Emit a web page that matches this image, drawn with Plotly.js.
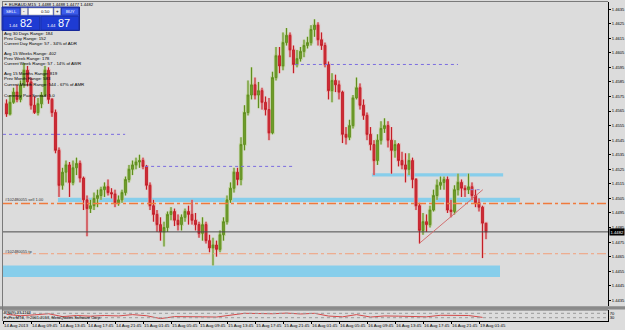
<!DOCTYPE html>
<html><head><meta charset="utf-8">
<script src="https://cdn.plot.ly/plotly-3.0.1.min.js"></script>
<style>html,body{margin:0;padding:0;background:#DCDCDC;overflow:hidden}#chart{width:625px;height:330px}</style>
</head><body><div id="chart"></div>
<script>
// ---- data (EURAUD; one candle per visible column) ----
const barOpen = [1.4570,1.4563,1.4571,1.4578,1.4573,1.4583,1.4593,1.4585,1.4569,1.4564,1.4570,1.4576,1.4593,1.4573,1.4564,1.4538,1.4514,1.4523,1.4528,1.4516,
1.4526,1.4529,1.4519,1.4504,1.4498,1.4500,1.4505,1.4507,1.4511,1.4513,1.4509,1.4508,1.4502,1.4504,1.4509,1.4518,1.4525,1.4528,1.4530,1.4531,
1.4527,1.4514,1.4500,1.4494,1.4487,1.4482,1.4485,1.4494,1.4496,1.4490,1.4487,1.4492,1.4496,1.4494,1.4490,1.4487,1.4481,1.4487,1.4476,1.4471,
1.4473,1.4470,1.4480,1.4489,1.4504,1.4512,1.4523,1.4518,1.4542,1.4564,1.4576,1.4583,1.4576,1.4579,1.4571,1.4566,1.4550,1.4588,1.4603,1.4596,
1.4612,1.4617,1.4607,1.4597,1.4601,1.4606,1.4610,1.4612,1.4621,1.4624,1.4614,1.4610,1.4597,1.4579,1.4586,1.4583,1.4578,1.4549,1.4547,1.4555,
1.4574,1.4581,1.4569,1.4562,1.4549,1.4542,1.4531,1.4545,1.4553,1.4555,1.4545,1.4538,1.4542,1.4531,1.4528,1.4525,1.4531,1.4518,1.4500,1.4483,
1.4489,1.4487,1.4497,1.4507,1.4514,1.4516,1.4518,1.4497,1.4496,1.4511,1.4516,1.4512,1.4511,1.4513,1.4507,1.4502,1.4499,1.4488];
const barHigh = [1.4573,1.4576,1.4581,1.4583,1.4586,1.4598,1.4596,1.4588,1.4575,1.4574,1.4578,1.4596,1.4595,1.4574,1.4566,1.4540,1.4526,1.4531,1.4530,1.4531,
1.4533,1.4531,1.4520,1.4507,1.4504,1.4509,1.4511,1.4513,1.4516,1.4518,1.4512,1.4511,1.4507,1.4511,1.4520,1.4528,1.4531,1.4533,1.4535,1.4533,
1.4528,1.4516,1.4504,1.4497,1.4492,1.4489,1.4496,1.4499,1.4498,1.4494,1.4494,1.4498,1.4500,1.4504,1.4495,1.4489,1.4492,1.4489,1.4480,1.4478,
1.4476,1.4483,1.4492,1.4507,1.4516,1.4526,1.4526,1.4547,1.4569,1.4586,1.4595,1.4588,1.4585,1.4581,1.4575,1.4574,1.4592,1.4609,1.4609,1.4619,
1.4622,1.4619,1.4610,1.4607,1.4609,1.4614,1.4616,1.4624,1.4628,1.4626,1.4619,1.4612,1.4599,1.4591,1.4590,1.4586,1.4579,1.4554,1.4559,1.4576,
1.4588,1.4584,1.4573,1.4564,1.4554,1.4545,1.4549,1.4558,1.4560,1.4558,1.4554,1.4545,1.4543,1.4537,1.4536,1.4536,1.4533,1.4519,1.4502,1.4495,
1.4494,1.4500,1.4511,1.4518,1.4520,1.4520,1.4520,1.4504,1.4514,1.4522,1.4518,1.4514,1.4522,1.4516,1.4511,1.4505,1.4500,1.4488];
const barLow = [1.4561,1.4562,1.4570,1.4571,1.4571,1.4581,1.4582,1.4566,1.4563,1.4562,1.4567,1.4575,1.4570,1.4561,1.4536,1.4506,1.4511,1.4516,1.4506,1.4514,
1.4521,1.4516,1.4497,1.4479,1.4495,1.4497,1.4499,1.4504,1.4506,1.4507,1.4505,1.4499,1.4500,1.4502,1.4507,1.4516,1.4521,1.4525,1.4526,1.4525,
1.4511,1.4497,1.4489,1.4482,1.4476,1.4472,1.4482,1.4490,1.4486,1.4483,1.4483,1.4489,1.4487,1.4487,1.4483,1.4478,1.4476,1.4474,1.4468,1.4459,
1.4465,1.4468,1.4476,1.4487,1.4502,1.4509,1.4514,1.4514,1.4538,1.4562,1.4573,1.4573,1.4567,1.4566,1.4562,1.4545,1.4549,1.4586,1.4591,1.4593,
1.4610,1.4602,1.4591,1.4595,1.4599,1.4602,1.4608,1.4610,1.4616,1.4610,1.4607,1.4595,1.4573,1.4571,1.4578,1.4573,1.4543,1.4542,1.4545,1.4553,
1.4573,1.4566,1.4559,1.4545,1.4538,1.4521,1.4528,1.4542,1.4550,1.4540,1.4522,1.4533,1.4527,1.4525,1.4516,1.4521,1.4512,1.4497,1.4474,1.4480,
1.4482,1.4485,1.4496,1.4504,1.4511,1.4511,1.4495,1.4492,1.4494,1.4507,1.4506,1.4506,1.4508,1.4504,1.4499,1.4496,1.4464,1.4477];
const barClose = [1.4563,1.4571,1.4578,1.4573,1.4583,1.4593,1.4585,1.4569,1.4564,1.4570,1.4576,1.4593,1.4573,1.4564,1.4538,1.4514,1.4523,1.4528,1.4516,1.4526,
1.4529,1.4519,1.4504,1.4498,1.4500,1.4505,1.4507,1.4511,1.4513,1.4509,1.4508,1.4502,1.4504,1.4509,1.4518,1.4525,1.4528,1.4530,1.4531,1.4527,
1.4514,1.4500,1.4494,1.4487,1.4482,1.4485,1.4494,1.4496,1.4490,1.4487,1.4492,1.4496,1.4494,1.4490,1.4487,1.4481,1.4487,1.4476,1.4471,1.4473,
1.4470,1.4480,1.4489,1.4504,1.4512,1.4523,1.4518,1.4542,1.4564,1.4576,1.4583,1.4576,1.4579,1.4571,1.4566,1.4550,1.4588,1.4603,1.4596,1.4612,
1.4617,1.4607,1.4597,1.4601,1.4606,1.4610,1.4612,1.4621,1.4624,1.4614,1.4610,1.4597,1.4579,1.4586,1.4583,1.4578,1.4549,1.4547,1.4555,1.4574,
1.4581,1.4569,1.4562,1.4549,1.4542,1.4531,1.4545,1.4553,1.4555,1.4545,1.4538,1.4542,1.4531,1.4528,1.4525,1.4531,1.4518,1.4500,1.4483,1.4489,
1.4487,1.4497,1.4507,1.4514,1.4516,1.4518,1.4497,1.4496,1.4511,1.4516,1.4512,1.4511,1.4513,1.4507,1.4502,1.4499,1.4488,1.4482];

const rsiBars   = [1,5,9,13,17,21,25,29,33,37,41,45,49,53,57,61,65,69,73,77,81,85,89,93,97,101,105,109,113,117,121,125,129,133,137];
const rsiValues = [60,48,56,66,40,50,44,50,46,58,48,22,40,42,38,36,55,70,68,66,72,64,70,45,38,58,36,46,44,40,38,52,48,50,33];

const timeLabels = ["14 Aug 2013","14 Aug 09:45","14 Aug 13:45","14 Aug 17:45","14 Aug 21:45","15 Aug 01:45","15 Aug 05:45","15 Aug 09:45","15 Aug 13:45",
"15 Aug 17:45","15 Aug 21:45","16 Aug 01:45","16 Aug 05:45","16 Aug 09:45","16 Aug 13:45","16 Aug 17:45","16 Aug 21:45","19 Aug 01:45"];
const timeLabelBars = [0,8,16,24,32,40,48,56,64,72,80,88,96,104,112,120,128,136];

const priceTicks = [1.4435,1.4445,1.4455,1.4465,1.4475,1.4485,1.4495,1.4505,1.4515,1.4525,1.4535,1.4545,1.4555,1.4565,1.4575,1.4585,1.4595,1.4605,1.4615,1.4625,1.4635];

const bidPrice = 1.4482, slPrice = 1.45015, tpPrice = 1.4467;
const zoneLow = [1.4451, 1.4459];    // bottom blue box
const zoneMid = [1.45025, 1.45055];  // middle blue band
const zoneTop = [1.45200, 1.45222];  // upper blue band
const dottedLevels = [1.4597, 1.4549, 1.4527];
const trendFrom = [118.9, 1.4474], trendTo = [137.1, 1.4511];

const infoLines = ["Avg 30 Days Range: 184","Prev Day Range: 152","Current Day Range: 57 - 34% of ADR",
"Avg 15 Weeks Range: 402","Prev Week Range: 178","Current Week Range: 57 - 14% of AWR",
"Avg 15 Months Range: 819","Prev Month Range: 583","Current Month Range: 544 - 67% of AMR","Currency Pair Spread: 5.0"];

// ---- geometry ----
const W=625,H=330,ML=3,MR=17,MT=2,MB=9, PW=W-ML-MR, PH=H-MT-MB;
const px=(x)=>(x-ML)/PW, py=(y)=>(H-MB-y)/PH;
const FONT='Liberation Sans, Arial, sans-serif';
const bars = barOpen.map((_,i)=>i+1);

const traces = [
 {type:'candlestick', x:bars, open:barOpen, high:barHigh, low:barLow, close:barClose, xaxis:'x', yaxis:'y',
  increasing:{line:{color:'#BFD29C',width:2.6}, fillcolor:'#BFD29C'},
  decreasing:{line:{color:'#E6B0B0',width:2.6}, fillcolor:'#E6B0B0'},
  whiskerwidth:0, hoverinfo:'skip', showlegend:false},
 {type:'candlestick', x:bars, open:barOpen, high:barHigh, low:barLow, close:barClose, xaxis:'x', yaxis:'y',
  increasing:{line:{color:'#5F8E1F',width:1}, fillcolor:'#74A22E'},
  decreasing:{line:{color:'#C21E28',width:1}, fillcolor:'#D0303A'},
  whiskerwidth:0, hoverinfo:'skip', showlegend:false},
 {type:'scatter', mode:'lines', x:rsiBars, y:rsiValues, xaxis:'x', yaxis:'y2',
  line:{color:'#D24B4B',width:1}, hoverinfo:'skip', showlegend:false}
];

const shapes = [];
const rect=(x0,x1,y0,y1,fill,line,lw,xref,yref,layer)=>shapes.push({type:'rect',xref:xref||'paper',yref:yref||'paper',x0,x1,y0,y1,fillcolor:fill,line:{color:line||fill,width:lw||0},layer:layer||'above'});
const hline=(x0,x1,y,color,width,dash,xref)=>shapes.push({type:'line',xref:xref||'paper',yref:'y',x0,x1,y0:y,y1:y,line:{color,width,dash}});

// zones
rect(0,142,zoneLow[0],zoneLow[1],'#87CEEB',null,0,'x','y','below');
rect(15.7,147.7,zoneMid[0],zoneMid[1],'#87CEEB',null,0,'x','y','below');
rect(105.4,142.9,zoneTop[0],zoneTop[1],'#87CEEB',null,0,'x','y','below');
// dotted levels
hline(83.4,130,dottedLevels[0],'#7A6CE0',1,'dot','x');
hline(0,34.9,dottedLevels[1],'#7A6CE0',1,'dot','x');
hline(40.6,82.6,dottedLevels[2],'#7A6CE0',1,'dot','x');
hline(133.6,137,trendTo[1],'#8C82D8',1,'dot','x');
// order lines & bid
hline(0,1,slPrice,'#F07A3C',1.5,'dashdot');
hline(0,1,tpPrice,'#F3A07C',1,'dashdot');
hline(0,1,bidPrice,'#4A4A4A',1,'solid');
// trend line
shapes.push({type:'line',xref:'x',yref:'y',x0:trendFrom[0],y0:trendFrom[1],x1:trendTo[0],y1:trendTo[1],line:{color:'#D27070',width:1}});
// rsi levels
shapes.push({type:'line',xref:'paper',yref:'y2',x0:0,x1:1,y0:70,y1:70,line:{color:'#9A9A9A',width:1,dash:'dot'}});
shapes.push({type:'line',xref:'paper',yref:'y2',x0:0,x1:1,y0:30,y1:30,line:{color:'#9A9A9A',width:1,dash:'dot'}});
// window frame
rect(px(0),px(625),py(309.5),py(306.3),'#8A8A8A');
shapes.push({type:'line',xref:'paper',yref:'paper',x0:px(2.5),x1:px(2.5),y0:py(321),y1:py(1),line:{color:'#7A7A7A',width:1}});
shapes.push({type:'line',xref:'paper',yref:'paper',x0:px(2.5),x1:px(608),y0:py(1.5),y1:py(1.5),line:{color:'#7A7A7A',width:1}});
shapes.push({type:'line',xref:'paper',yref:'paper',x0:px(2.5),x1:px(608),y0:py(310),y1:py(310),line:{color:'#6A6A6A',width:1}});
// one-click panel
rect(px(2),px(79.5),py(30.5),py(7),'#2643D4','#18299A',1);
rect(px(3),px(20),py(15),py(8),'#3C5CEA','#1C2E9E',0.6);
rect(px(21),px(27.5),py(15),py(8),'#EEEEEE','#9A9A9A',0.6);
rect(px(28.5),px(53),py(15),py(8),'#FFFFFF','#9A9A9A',0.6);
rect(px(54),px(60.5),py(15),py(8),'#EEEEEE','#9A9A9A',0.6);
rect(px(61.5),px(78.5),py(15),py(8),'#3C5CEA','#1C2E9E',0.6);
rect(px(3),px(39.5),py(30),py(16.5),'#1E3BD3','#1A2C9C',0.6);
rect(px(41),px(78.5),py(30),py(16.5),'#1E3BD3','#1A2C9C',0.6);

const ann=(text,x,y,size,color,xanchor,extra)=>Object.assign({xref:'paper',yref:'paper',x:px(x),y:py(y),text,showarrow:false,
  xanchor:xanchor||'left',yanchor:'middle',borderpad:0,font:{family:FONT,size:size||4.5,color:color||'#000'}},extra||{});
const annotations=[
 ann('▲',3,4.2,3.5,'#303030'),
 ann('EURAUD,M15  1.4488 1.4488 1.4477 1.4482',8,4.2,4.2,'#000'),
 ann('SELL',11.5,11.5,4.2,'#fff','center'),
 ann('-',24.2,11.3,4.5,'#000','center'),
 ann('0.50',51.5,11.5,4.3,'#000','right'),
 ann('+',57.2,11.3,4.5,'#000','center'),
 ann('BUY',70,11.5,4.2,'#fff','center'),
 ann('1.44',8,25,4.3,'#fff'),
 ann('82',18.5,23,11,'#fff'),
 ann('1.44',46,25,4.3,'#fff'),
 ann('87',56.5,23,11,'#fff'),
 ann('#102480055 sell 1.00',4,199.5,4,'#303030'),
 ann('#102480055 tp',4,251,4,'#303030'),
 ann('RSI(9) 33.1163',3,312.2,4,'#000'),
 ann('FxPro MT4, © 2001-2013, MetaQuotes Software Corp.',3,317.2,4,'#000'),
 {xref:'paper',yref:'y',x:px(608.5),y:bidPrice,text:'1.4482',showarrow:false,xanchor:'left',yanchor:'middle',bgcolor:'#000',borderpad:0.5,font:{family:FONT,size:4.2,color:'#fff'}}
];
const infoY=[33.3,38.3,43.3,53.3,58.3,63.3,73.3,78.7,84.3,95.7];
infoLines.forEach((t,i)=>annotations.push(ann(t,3,infoY[i],4.4,'#000')));

const layout={
 width:W,height:H,margin:{l:ML,r:MR,t:MT,b:MB,pad:0},
 paper_bgcolor:'#DCDCDC',plot_bgcolor:'#DCDCDC',showlegend:false,
 xaxis:{anchor:'y2',range:[0,PW/3.5],showgrid:false,zeroline:false,showline:true,linecolor:'#000',linewidth:1,
   tickvals:timeLabelBars,ticktext:timeLabels,ticks:'outside',ticklen:2,tickcolor:'#000',ticklabelposition:'outside right',
   tickangle:0,automargin:false,
   tickfont:{family:FONT,size:4.3,color:'#000'},rangeslider:{visible:false},fixedrange:true},
 yaxis:{domain:[py(306),1],range:[1.44311,1.46399],side:'right',anchor:'x',showgrid:false,zeroline:false,showline:true,linecolor:'#000',linewidth:1,
   tickvals:priceTicks,ticktext:priceTicks.map(v=>v.toFixed(4)),ticks:'outside',ticklen:2,tickcolor:'#000',automargin:false,
   tickfont:{family:FONT,size:4.1,color:'#000'}},
 yaxis2:{domain:[0,py(310)],range:[0,100],side:'right',anchor:'x',showgrid:false,zeroline:false,showline:true,linecolor:'#000',linewidth:1,
   tickvals:[70,30],ticktext:['70','30'],ticks:'',automargin:false,tickfont:{family:FONT,size:4.1,color:'#000'}},
 shapes,annotations
};
Plotly.newPlot('chart',traces,layout,{staticPlot:true,displayModeBar:false});
</script></body></html>
